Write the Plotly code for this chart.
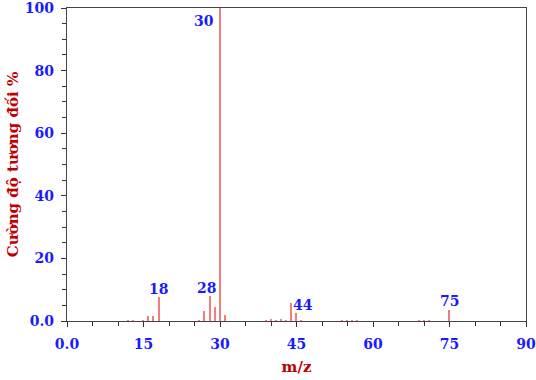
import plotly.graph_objects as go

mz = [12, 13, 15, 16, 17, 18, 26, 27, 28, 29, 30, 31, 39, 40, 41, 42, 43, 44, 45, 46, 54, 55, 56, 57, 69, 70, 71, 75]
intensity = [0.3, 0.3, 0.2, 1.5, 1.7, 7.8, 0.3, 3.2, 8.1, 4.6, 100, 2.0, 0.2, 0.7, 0.3, 0.6, 0.3, 5.6, 2.7, 0.3, 0.2, 0.3, 0.3, 0.2, 0.2, 0.3, 0.3, 3.5]

label_text = ["30", "18", "28", "44", "75"]
label_x = [26.8, 18.0, 27.4, 46.3, 75.0]
label_y = [96.0, 10.2, 10.5, 5.0, 6.5]

x_tickvals = [0, 15, 30, 45, 60, 75, 90]
x_ticktext = ["0.0", "15", "30", "45", "60", "75", "90"]
y_tickvals = [0, 20, 40, 60, 80, 100]
y_ticktext = ["0.0", "20", "40", "60", "80", "100"]

font_family = "DejaVu Serif"
blue = "#1a1aff"
red = "#c00000"

fig = go.Figure()
fig.add_trace(go.Bar(x=mz, y=intensity, width=0.3,
                     marker=dict(color="#f47c7c", line=dict(width=0)),
                     hoverinfo="x+y"))

for t, x, y in zip(label_text, label_x, label_y):
    fig.add_annotation(x=x, y=y, text=t, showarrow=False,
                       font=dict(family=font_family, size=14, color=blue, weight="bold"))

fig.update_layout(
    width=536, height=380,
    margin=dict(l=67, r=10, t=8, b=59),
    plot_bgcolor="white", paper_bgcolor="white",
    showlegend=False,
    bargap=0,
    xaxis=dict(range=[0, 90], tickvals=x_tickvals, ticktext=x_ticktext,
               automargin=False, ticklabeloverflow="allow", ticklabelstandoff=5,
               ticks="outside", ticklen=5, tickcolor="#333",
               minor=dict(dtick=5, tick0=0, ticks="outside", ticklen=4, tickcolor="#333", showgrid=False),
               showline=True, linecolor="#444", linewidth=1.2, mirror=True,
               showgrid=False, zeroline=False,
               tickfont=dict(family=font_family, size=14, color=blue, weight="bold"),
               title=dict(text="m/z", font=dict(family=font_family, size=15, color=red, weight="bold"), standoff=10)),
    yaxis=dict(range=[0, 100], tickvals=y_tickvals, ticktext=y_ticktext,
               automargin=False, ticklabeloverflow="allow", ticklabelstandoff=4,
               ticks="outside", ticklen=5, tickcolor="#333",
               minor=dict(dtick=5, tick0=0, ticks="outside", ticklen=4, tickcolor="#333", showgrid=False),
               showline=True, linecolor="#444", linewidth=1.2, mirror=True,
               showgrid=False, zeroline=False,
               tickfont=dict(family=font_family, size=14, color=blue, weight="bold"),
               title=dict(text="Cường độ tương đối %", font=dict(family=font_family, size=15, color=red, weight="bold"), standoff=2)),
)

fig.write_html("out.html")
